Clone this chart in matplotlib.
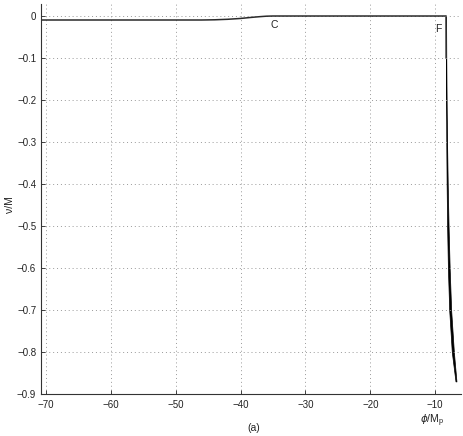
import matplotlib
matplotlib.use("Agg")
import matplotlib.pyplot as plt
import numpy as np

plt.rcParams['font.family'] = ['Liberation Sans', 'DejaVu Sans']

# Main curve (flat, smooth rise at C, plateau to F)
phi_main = [-70.8, -46.0, -44.0, -42.0, -40.0, -38.5, -37.0, -36.0, -35.0, -8.35]
nu_main = [-0.0095, -0.0095, -0.0090, -0.0078, -0.0058, -0.0035, -0.0015, -0.0004, 0.0, 0.0]

# Steep drop after F (band: left / right edges)
nu_drop = [0.0, -0.1, -0.2, -0.3, -0.4, -0.5, -0.6, -0.7, -0.8, -0.87]
phi_drop_left = [-8.35, -8.33, -8.30, -8.27, -8.22, -8.14, -8.02, -7.82, -7.42, -6.85]
phi_drop_right = [-8.30, -8.27, -8.22, -8.15, -8.05, -7.92, -7.75, -7.52, -7.10, -6.70]

xticks = [-70, -60, -50, -40, -30, -20, -10]
yticks = [0, -0.1, -0.2, -0.3, -0.4, -0.5, -0.6, -0.7, -0.8, -0.9]
ytick_labels = ['0', '\u22120.1', '\u22120.2', '\u22120.3', '\u22120.4', '\u22120.5',
                '\u22120.6', '\u22120.7', '\u22120.8', '\u22120.9']
xtick_labels = ['\u221270', '\u221260', '\u221250', '\u221240', '\u221230', '\u221220', '\u221210']

fig = plt.figure(figsize=(4.63, 4.36), dpi=100)
ax = fig.add_axes([41 / 463, 42 / 436, 420 / 463, 390 / 436])

ax.plot(phi_main, nu_main, color='#2a2a2a', lw=1.1)
ax.plot([phi_main[-1], phi_drop_left[1]], [0, nu_drop[1]], color='#555555', lw=1.0)
ax.fill_betweenx(nu_drop, phi_drop_left, phi_drop_right, color='black', lw=0.5)

ax.set_xlim(-70.8, -6.0)
ax.set_ylim(-0.9, 0.0286)
ax.set_xticks(xticks)
ax.set_xticklabels(xtick_labels)
ax.set_yticks(yticks)
ax.set_yticklabels(ytick_labels)
ax.tick_params(direction='in', length=3, labelsize=7, colors='#222222', width=0.6)
ax.tick_params(axis='x', pad=4)
ax.grid(True, linestyle=(0, (1, 3)), color='#999999', lw=0.7)
for s in ['top', 'right']:
    ax.spines[s].set_visible(False)
for s in ['left', 'bottom']:
    ax.spines[s].set_color('#333333')
    ax.spines[s].set_linewidth(0.8)

ax.text(-34.8, -0.021, 'C', fontsize=7.5, ha='center', va='center', color='#222222')
ax.text(-9.5, -0.031, 'F', fontsize=7.5, ha='center', va='center', color='#222222')

fig.text(10 / 463, 1 - 205 / 436, '\u03bd/M', rotation=90, fontsize=7.5, ha='center', va='center', color='#222222')
fig.text(432 / 463, 1 - 421 / 436, r'$\phi$/M$_\mathregular{p}$', fontsize=7.5, ha='center', va='center', color='#222222')
fig.text(254 / 463, 1 - 428 / 436, '(a)', fontsize=7.5, ha='center', va='center', color='#222222')

fig.savefig('out.png', dpi=100)
